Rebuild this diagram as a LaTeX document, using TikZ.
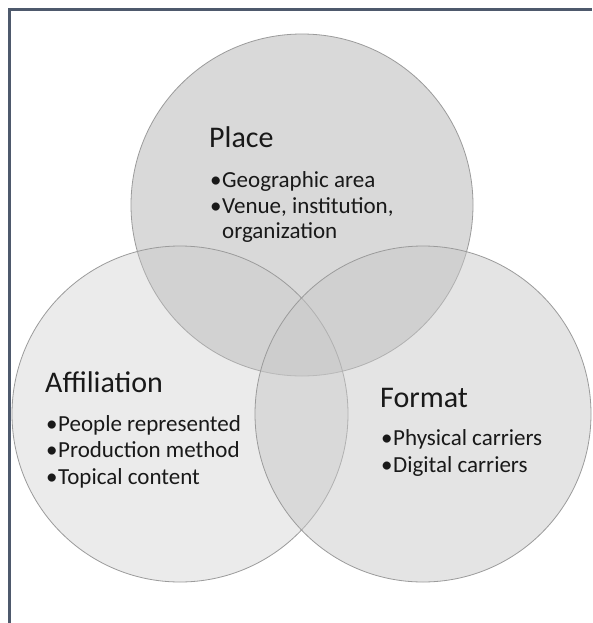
\documentclass[tikz,border=0pt]{standalone}
\usepackage{fontspec}
\setmainfont{Carlito}
\definecolor{framecol}{RGB}{78,89,108}
\definecolor{ringline}{RGB}{155,155,155}
\definecolor{ringfill}{RGB}{200,200,200}
\definecolor{ink}{RGB}{25,25,25}
\newcommand{\bul}{\makebox[12pt][l]{•}}
\begin{document}
\begin{tikzpicture}[x=1pt,y=-1pt,
  ring/.style={circle, draw=ringline, line width=0.8pt, fill=ringfill, inner sep=0pt},
  heading/.style={anchor=base west, inner sep=0pt, font=\fontsize{30}{36}\selectfont, text=ink},
  item/.style={anchor=base west, inner sep=0pt, font=\fontsize{23}{28}\selectfont, text=ink},
]
\useasboundingbox (0,0) rectangle (592,623);
\fill[white] (0,0) rectangle (592,623);

% frame lines along the top and left
\draw[framecol, line width=3pt] (9.5,623) -- (9.5,10) -- (592,10);

% the three overlapping circles
\node[ring, fill opacity=0.69, minimum size=342pt] (place) at (302,205) {};
\node[ring, fill opacity=0.36, minimum size=336pt] (affil) at (180,414) {};
\node[ring, fill opacity=0.49, minimum size=336pt] (format) at (423,414) {};

% Place
\node[heading] (placeT) at (209,147) {Place};
\node[item] (placeA) at (210,187) {\bul Geographic area};
\node[item] (placeB) at (210,213) {\bul Venue, institution,};
\node[item] (placeC) at (222,238) {organization};

% Affiliation
\node[heading] (affilT) at (45,392) {Affiliation};
\node[item] (affilA) at (46,431) {\bul People represented};
\node[item] (affilB) at (46,457) {\bul Production method};
\node[item] (affilC) at (46,484) {\bul Topical content};

% Format
\node[heading] (formatT) at (380,407) {Format};
\node[item] (formatA) at (381,445) {\bul Physical carriers};
\node[item] (formatB) at (381,472) {\bul Digital carriers};
\end{tikzpicture}
\end{document}
